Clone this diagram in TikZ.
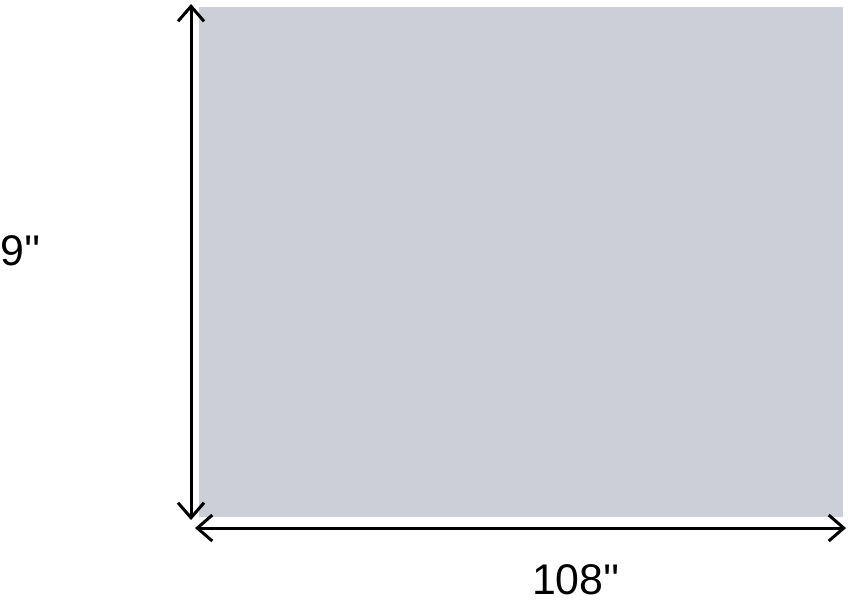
\documentclass[tikz,border=0pt]{standalone}
\usepackage{fontspec}
\setmainfont{Liberation Sans}[Ligatures=TeXOff]
\usetikzlibrary{arrows.meta}
\definecolor{rugfill}{RGB}{204,207,215}
\tikzset{
  dimline/.style={line width=0.3mm, {Straight Barb[length=1.5mm,width=2.6mm,line width=0.3mm]}-{Straight Barb[length=1.5mm,width=2.6mm,line width=0.3mm]}},
  dimlabel/.style={font=\fontsize{12.2}{14}\selectfont, inner sep=0pt}
}
\begin{document}
\begin{tikzpicture}
\useasboundingbox (0,0) rectangle (8.5,-5.99);
% rug
\fill[rugfill] (1.99,-0.07) rectangle (8.43,-5.17);
% dimension ends
\coordinate (vtop) at (1.91,-0.04);
\coordinate (vbot) at (1.91,-5.20);
\coordinate (hleft) at (1.95,-5.28);
\coordinate (hright) at (8.46,-5.28);
\draw[dimline] (vbot) -- (vtop);
\draw[dimline] (hleft) -- (hright);
\node[dimlabel, anchor=west] (height) at (0,-2.51) {9''};
\node[dimlabel] (width) at (5.76,-5.80) {108''};
\end{tikzpicture}
\end{document}
